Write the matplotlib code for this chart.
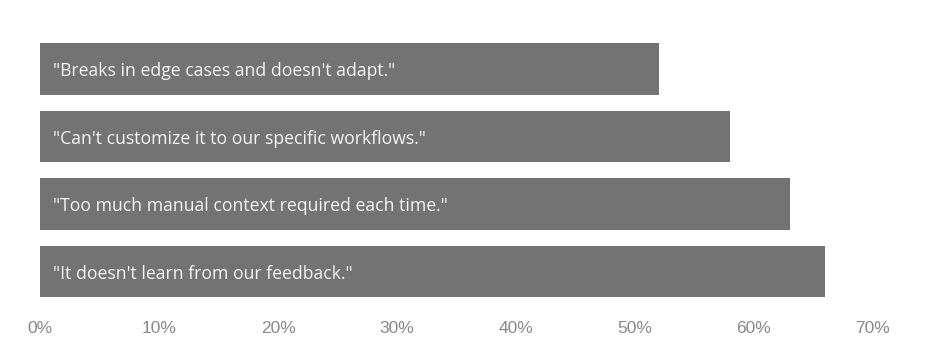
import matplotlib.pyplot as plt
from matplotlib.ticker import FuncFormatter

# feedback quotes, top to bottom
quotes = [
    '"Breaks in edge cases and doesn\'t adapt."',
    '"Can\'t customize it to our specific workflows."',
    '"Too much manual context required each time."',
    '"It doesn\'t learn from our feedback."',
]
shares = [0.52, 0.58, 0.63, 0.66]
ticks = [0.0, 0.1, 0.2, 0.3, 0.4, 0.5, 0.6, 0.7]

plt.rcParams['font.family'] = ['Open Sans', 'DejaVu Sans']

fig = plt.figure(figsize=(9.36, 3.61), dpi=100)
ax = fig.add_axes([40 / 936, 1 - 305.25 / 361, (873 - 40) / 936, (305.25 - 35.25) / 361])

pos = list(range(len(quotes)))
ax.barh(pos, shares, height=0.77, color='#737373')
for y, q in zip(pos, quotes):
    ax.text(0.011, y + 0.03, q, color='#f4f4f4', fontsize=12.7, va='center', ha='left')

ax.set_xlim(0, 0.7)
ax.set_ylim(3.5, -0.5)
ax.set_xticks(ticks)
ax.xaxis.set_major_formatter(FuncFormatter(lambda v, _: f'{v * 100:.0f}%'))
ax.set_yticks([])
ax.tick_params(axis='x', length=0, pad=11, labelsize=12.5)
for lbl in ax.get_xticklabels():
    lbl.set_color('#888888')
    lbl.set_family(['Liberation Sans', 'DejaVu Sans'])
for s in ax.spines.values():
    s.set_visible(False)

fig.savefig('out.png', dpi=100, facecolor='white')
